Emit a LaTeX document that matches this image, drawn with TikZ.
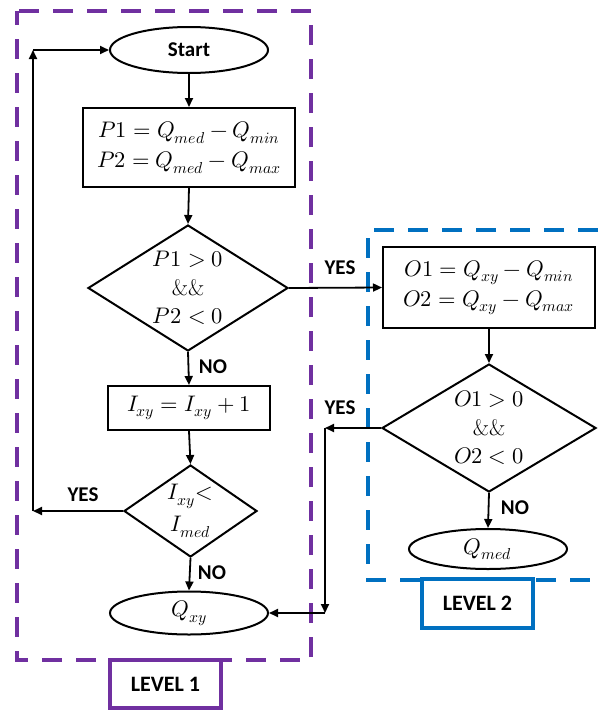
\documentclass[tikz,border=0pt]{standalone}
\usepackage{fontspec}
\usepackage{unicode-math}
\setmathfont{Latin Modern Math}
\newfontfamily\labfont{Carlito}
\usetikzlibrary{shapes.geometric,arrows.meta}
\definecolor{lvpurple}{HTML}{7030A0}
\definecolor{lvblue}{HTML}{0070C0}
\tikzset{
  proc/.style={draw, line width=2pt, fill=white, align=center, inner sep=0pt, font=\fontsize{22.5}{30}\selectfont},
  term/.style={draw, ellipse, line width=2pt, fill=white, inner sep=0pt},
  dec/.style={draw, diamond, line width=2pt, fill=white, inner sep=0pt, align=center, font=\fontsize{22.5}{28.5}\selectfont},
  conn/.style={line width=1.8pt, -{Triangle[length=9pt,width=8pt]}},
  lbl/.style={font=\labfont\bfseries\fontsize{21}{21}\selectfont, inner sep=0pt},
  lvbox/.style={line width=3.5pt, fill=white, inner sep=0pt, font=\labfont\bfseries\fontsize{22}{22}\selectfont},
}
\begin{document}
\begin{tikzpicture}[x=1pt,y=-1pt]
\useasboundingbox (0,0) rectangle (598,710);
% level frames
\draw[lvpurple, line width=4pt, dash pattern=on 20pt off 14pt, dash phase=6pt] (17,11) rectangle (311,660);
\draw[lvblue, line width=4pt, dash pattern=on 20pt off 14pt] (598,230) -- (368,230) -- (368,580) -- (598,580);
\node[lvbox, draw=lvpurple, minimum width=111pt, minimum height=48pt] (lv1) at (165.5,684) {LEVEL 1};
\node[lvbox, draw=lvblue, minimum width=111pt, minimum height=49pt] (lv2) at (477.5,603.5) {LEVEL 2};
% nodes
\node[term, minimum width=158pt, minimum height=46pt, font=\labfont\bfseries\fontsize{21}{21}\selectfont] (start) at (189,50) {Start};
\node[proc, minimum width=212pt, minimum height=79pt] (b1) at (189,147.5) {$P1 = Q_{med} - Q_{min}$\\$P2 = Q_{med} - Q_{max}$};
\node[dec, minimum width=200pt, minimum height=126pt, aspect=1.59] (d1) at (188,288) {$P1 > 0$\\\&\&\\$P2 < 0$};
\node[proc, minimum width=162pt, minimum height=44pt] (b2) at (189,408) {$I_{xy} = I_{xy} + 1$};
\node[dec, minimum width=133pt, minimum height=92pt, aspect=1.45, font=\fontsize{22.5}{32}\selectfont] (d2) at (190.5,511) {$I_{xy}{<}$\\$I_{med}$};
\node[term, minimum width=158pt, minimum height=43pt, font=\fontsize{22.5}{22.5}\selectfont] (qxy) at (189,613) {$Q_{xy}$};
\node[proc, minimum width=212pt, minimum height=81pt] (bo) at (489,287.5) {$O1 = Q_{xy} - Q_{min}$\\$O2 = Q_{xy} - Q_{max}$};
\node[dec, minimum width=214pt, minimum height=128pt, aspect=1.67] (d3) at (489,428) {$O1 > 0$\\\&\&\\$O2 < 0$};
\node[term, minimum width=158pt, minimum height=40pt, font=\fontsize{22.5}{22.5}\selectfont] (qmed) at (488,549) {$Q_{med}$};
% helper coordinates
\coordinate (L1) at (33,511);
\coordinate (L2) at (33,50);
\coordinate (R1) at (325,428);
\coordinate (R2) at (325,613);
% connectors
\draw[conn] (start.south) -- (b1.north);
\draw[conn] (b1.south) -- (d1.north);
\draw[conn] (d1.south) -- (b2.north);
\draw[conn] (b2.south) -- (d2.north);
\draw[conn] (d2.south) -- (qxy.north);
\draw[conn] (d1.east) -- (bo.west);
\draw[conn] (bo.south) -- (d3.north);
\draw[conn] (d3.south) -- (qmed.north);
\draw[conn] (d2.west) -- (L1);
\draw[conn] (L1) -- (L2);
\draw[conn] (L2) -- (start.west);
\draw[conn] (d3.west) -- (R1);
\draw[conn] (R1) -- (R2);
\draw[conn] (R2) -- (qxy.east);
% labels
\node[lbl] (y1) at (340,268) {YES};
\node[lbl] (n1) at (213,367) {NO};
\node[lbl] (y2) at (83,495) {YES};
\node[lbl] (n2) at (212,573) {NO};
\node[lbl] (y3) at (340,408) {YES};
\node[lbl] (n3) at (515,508) {NO};
\end{tikzpicture}
\end{document}
